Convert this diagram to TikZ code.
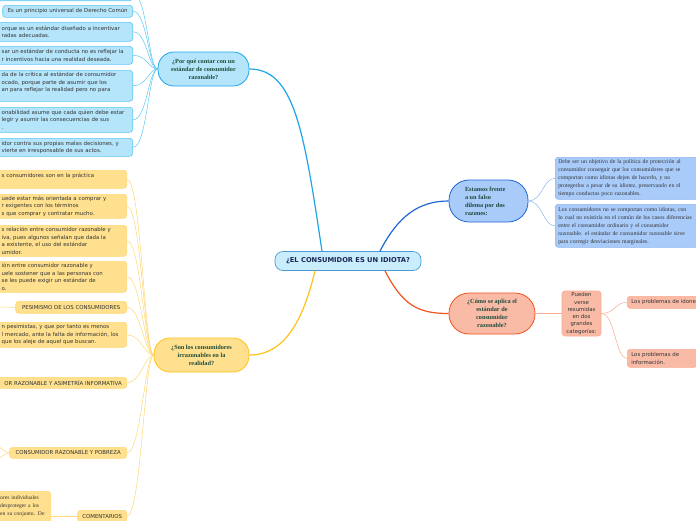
\documentclass[tikz,border=0pt]{standalone}
\usepackage{fontspec}
\setmainfont{Liberation Serif}
\setsansfont{DejaVu Sans}
\usetikzlibrary{positioning}
\hyphenpenalty=10000
\exhyphenpenalty=10000

\definecolor{bluefill}{HTML}{B5E5FB}
\definecolor{blueline}{HTML}{5CC6F2}
\definecolor{bluemain}{HTML}{1FA5E6}
\definecolor{rootfill}{HTML}{C9EDFC}
\definecolor{rootline}{HTML}{4A9BD4}
\definecolor{roottext}{HTML}{1A2755}
\definecolor{navyfill}{HTML}{A9CBFA}
\definecolor{navyline}{HTML}{1F66D6}
\definecolor{navysoft}{HTML}{8DB4EE}
\definecolor{redfill}{HTML}{F9BBA6}
\definecolor{redline}{HTML}{F2531F}
\definecolor{redsoft}{HTML}{F9AA90}
\definecolor{yelfill}{HTML}{FFE08E}
\definecolor{yelline}{HTML}{FFC21A}
\definecolor{yelsoft}{HTML}{FFD774}
\definecolor{topictext}{HTML}{1F4A3A}
\definecolor{leaftext}{HTML}{333333}

\tikzset{
  leaf/.style={draw, rounded corners=3pt, line width=0.6pt, inner xsep=4pt, inner ysep=1.5pt,
    align=left, text=leaftext, font=\sffamily\fontsize{5.4}{7.4}\selectfont},
  blueleaf/.style={leaf, fill=bluefill, draw=blueline},
  yelleaf/.style={leaf, fill=yelfill, draw=yelsoft},
  navyleaf/.style={leaf, fill=navyfill, draw=navysoft, inner xsep=3pt,
    font=\rmfamily\fontsize{5.8}{8}\selectfont},
  redleaf/.style={leaf, fill=redfill, draw=redsoft},
  cutleft/.style={anchor=north east, inner xsep=5pt, text width=#1},
  topic/.style={draw, line width=0.8pt, rounded corners=16pt, align=center, text=topictext,
    font=\rmfamily\bfseries\fontsize{6.3}{8}\selectfont},
  twig/.style={line width=0.5pt},
  branch/.style={line width=1.2pt}
}

\begin{document}
\begin{tikzpicture}[x=1pt, y=-1pt]
  \useasboundingbox (0,0) rectangle (696,520);
  \clip (0,0) rectangle (696,520);

  % central node
  \node[draw=rootline, fill=rootfill, line width=0.7pt, rounded corners=8pt, minimum width=146pt,
    minimum height=19pt, text=roottext, font=\sffamily\bfseries\fontsize{6.7}{7.5}\selectfont]
    (root) at (348,261) {¿EL CONSUMIDOR ES UN IDIOTA?};

  % topics
  \node[topic, fill=bluefill, draw=bluemain, minimum width=91pt, minimum height=34pt]
    (whyq) at (203.5,69) {¿Por qué contar con un\\estándar de consumidor\\razonable?};
  \node[topic, fill=yelfill, draw=yelline, minimum width=95pt, minimum height=34pt]
    (sonq) at (201.5,355) {¿Son los consumidores\\irrazonables en la\\realidad?};
  \node[topic, fill=navyfill, draw=navyline, minimum width=79pt, minimum height=42pt, rounded corners=20pt]
    (estamos) at (488.5,201) {\parbox{47pt}{\raggedright Estamos frente\\a un falso\\dilema por dos\\razones:}};
  \node[topic, fill=redfill, draw=redline, minimum width=86pt, minimum height=41pt, rounded corners=20pt]
    (comoq) at (492,313.5) {¿Cómo se aplica el\\estándar de\\consumidor\\razonable?};

  % main branches
  \draw[branch, bluemain] ([xshift=-26pt]root.north) .. controls +(-18,-120) and +(45,0) .. (whyq.east);
  \draw[branch, yelline] ([xshift=-33pt]root.south) .. controls +(-12,50) and +(35,0) .. (sonq.east);
  \draw[branch, navyline] ([xshift=32pt]root.north) .. controls +(18,-35) and +(-30,0) .. (estamos.west);
  \draw[branch, redline] ([xshift=37pt]root.south) .. controls +(18,35) and +(-30,0) .. (comoq.west);

  % blue leaves
  \node[blueleaf, anchor=south east, minimum width=150pt, minimum height=14pt] (b0) at (133,1) {};
  \node[blueleaf, anchor=north east, minimum width=130pt, minimum height=12pt] (b1) at (133,5)
    {Es un principio universal de Derecho Común};
  \node[blueleaf, cutleft=126pt, minimum height=19pt] (b2) at (133,22)
    {orque es un estándar diseñado a incentivar\\radas adecuadas.};
  \node[blueleaf, cutleft=126pt, minimum height=18pt] (b3) at (133,46)
    {sar un estándar de conducta no es reflejar la\\r incentivos hacia una realidad deseada.};
  \node[blueleaf, cutleft=126pt, minimum height=31pt] (b4) at (133,70)
    {da de la crítica al estándar de consumidor\\ocado, porque parte de asumir que los\\an para reflejar la realidad pero no para\\\mbox{}};
  \node[blueleaf, cutleft=126pt, minimum height=25pt] (b5) at (133,107)
    {onabilidad asume que cada quien debe estar\\legir y asumir las consecuencias de sus\\.};
  \node[blueleaf, cutleft=126pt, minimum height=18pt] (b6) at (133,138)
    {idor contra sus propias malas decisiones, y\\vierte en irresponsable de sus actos.};
  \foreach \leaf in {b0,b1,b2,b3,b4,b5,b6}
    \draw[twig, blueline] (\leaf.east) .. controls +(14,0) and +(-9,0) .. (whyq.west);

  % yellow leaves
  \node[yelleaf, cutleft=120pt, minimum height=18pt] (y1) at (127,170)
    {s consumidores son en la práctica\\\mbox{}};
  \node[yelleaf, cutleft=120pt, minimum height=24pt] (y2) at (127,194)
    {uede estar más orientada a comprar y\\r exigentes con los términos\\s que comprar y contratar mucho.};
  \node[yelleaf, cutleft=120pt, minimum height=31pt] (y3) at (127,225)
    {s relación entre consumidor razonable y\\iva, pues algunos señalan que dada la\\a existente, el uso del estándar\\umidor.};
  \node[yelleaf, cutleft=120pt, minimum height=31pt] (y4) at (127,261)
    {ión entre consumidor razonable y\\uele sostener que a las personas con\\se les puede exigir un estándar de\\o.};
  \node[yelleaf, anchor=north east, align=center, minimum width=111pt, minimum height=12pt] (y5) at (127,301)
    {PESIMISMO DE LOS CONSUMIDORES};
  \node[yelleaf, cutleft=120pt, minimum height=25pt] (y6) at (127,322)
    {n pesimistas, y que por tanto es menos\\l mercado, ante la falta de información, los\\que los aleje de aquel que buscan.};
  \node[yelleaf, cutleft=120pt, align=right, minimum height=11pt] (y7) at (127,377)
    {OR RAZONABLE Y ASIMETRÍA INFORMATIVA};
  \node[yelleaf, anchor=north east, align=center, minimum width=117pt, minimum height=11pt] (y8) at (127,447)
    {CONSUMIDOR RAZONABLE Y POBREZA};
  \node[yelleaf, anchor=north east, align=center, minimum width=49pt, minimum height=12pt] (y9) at (127,510)
    {COMENTARIOS};
  \node[yelleaf, cutleft=49pt, inner xsep=1.5pt, minimum height=36pt, font=\rmfamily\fontsize{5.6}{7.8}\selectfont]
    (y10) at (51,491) {ores individuales\\desproteger a los\\en su conjunto. De\\\mbox{}};
  \foreach \leaf in {y1,y2,y3,y4,y5,y6,y7,y8,y9}
    \draw[twig, yelsoft] (\leaf.east) .. controls +(14,0) and +(-9,0) .. (sonq.west);
  \coordinate (pesoff) at (-5,307);
  \coordinate (pobup) at (-5,445);
  \coordinate (pobdown) at (-5,460);
  \draw[twig, yelsoft] (y5.west) -- (pesoff);
  \draw[twig, yelsoft] (y8.west) .. controls +(-5,0) and +(4,0) .. (pobup);
  \draw[twig, yelsoft] (y8.west) .. controls +(-5,0) and +(4,0) .. (pobdown);
  \draw[twig, yelsoft] (y9.west) -- (y10.east |- y9.west);

  % navy leaves
  \node[navyleaf, anchor=north west, text width=137pt, minimum height=42pt] (r1) at (555,157)
    {Debe ser un objetivo de la política de protección al\\consumidor conseguir que los consumidores que se\\comportan como idiotas dejen de hacerlo, y no\\protegerlos a pesar de su idiotez, preservando en el\\tiempo conductas poco razonables.};
  \node[navyleaf, anchor=north west, text width=137pt, minimum height=43pt] (r2) at (555,204)
    {Los consumidores no se comportan como idiotas, con\\lo cual no existiría en el común de los casos diferencias\\entre el consumidor ordinario y el consumidor\\razonable. el estándar de consumidor razonable sirve\\para corregir desviaciones marginales.};
  \foreach \leaf in {r1,r2}
    \draw[twig, navysoft] (estamos.east) .. controls +(14,0) and +(-12,0) .. (\leaf.west);

  % red leaves
  \node[redleaf, align=center, inner xsep=1pt, minimum width=39pt, minimum height=45pt,
    font=\sffamily\fontsize{5.4}{7.3}\selectfont] (pueden) at (581.5,313.5)
    {Pueden\\verse\\resumidas\\en dos\\grandes\\categorías:};
  \node[redleaf, anchor=north west, text width=70pt, minimum height=12pt] (idone) at (627,296)
    {Los problemas de idone};
  \node[redleaf, anchor=north west, text width=62pt, minimum height=18pt] (info) at (627,349)
    {Los problemas de\\información.};
  \draw[twig, redsoft] (comoq.east) -- (pueden.west);
  \foreach \leaf in {idone,info}
    \draw[twig, redsoft] (pueden.east) .. controls +(14,0) and +(-12,0) .. (\leaf.west);
\end{tikzpicture}
\end{document}
